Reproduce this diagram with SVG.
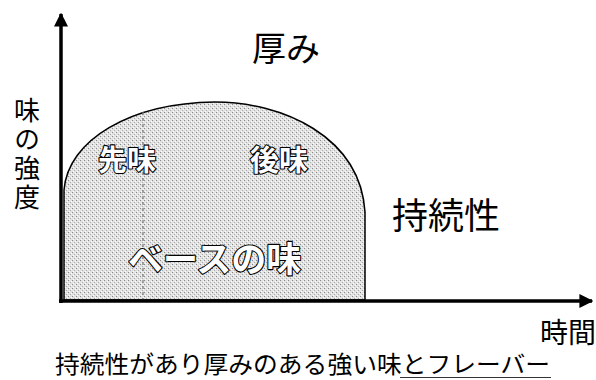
<svg xmlns="http://www.w3.org/2000/svg" width="596" height="380" viewBox="0 0 596 380">
<style>
.t{font-family:"Noto Sans CJK JP","Noto Sans CJK SC",sans-serif;fill:#000}
.o{font-family:"Noto Sans CJK JP","Noto Sans CJK SC",sans-serif;font-weight:bold;fill:#fff;stroke:#000;stroke-width:2.2;paint-order:stroke;stroke-linejoin:round}
.ax{stroke:#000;stroke-width:3.5;fill:none}
</style>
<defs>
<pattern id="stip" width="4" height="4" patternUnits="userSpaceOnUse">
<rect width="4" height="4" fill="#e2e2e2"/>
<rect x="0" y="0" width="1" height="1" fill="#888"/>
<rect x="2" y="2" width="1" height="1" fill="#aaa"/>
<rect x="1" y="3" width="1" height="1" fill="#fff"/>
<rect x="3" y="1" width="1" height="1" fill="#fff"/>
</pattern>
<marker id="ah" viewBox="0 0 10 10" refX="9" refY="5" markerWidth="4" markerHeight="4.5" orient="auto" markerUnits="strokeWidth">
<path d="M0,0 L10,5 L0,10 Z" fill="#000"/>
</marker>
</defs>
<g id="region">
<path d="M64,300 L64,190 C68,140 130,103 215,102 C282,102 360,136 365,212 L365,300 Z" fill="url(#stip)" stroke="#000" stroke-width="1.5"/>
<line x1="143" y1="112" x2="143" y2="300" stroke="#777" stroke-width="1.2" stroke-dasharray="3,3"/>
</g>
<g id="connectors">
<line class="ax" x1="61" y1="303" x2="61" y2="14" marker-end="url(#ah)"/>
<line class="ax" x1="59" y1="301" x2="592" y2="301" marker-end="url(#ah)"/>
</g>
<g id="label-atsumi"><text class="t" x="252" y="61" font-size="34">厚み</text></g>
<g id="label-yaxis">
<text class="t" x="27" y="97" font-size="26" writing-mode="vertical-rl" letter-spacing="3">味の強度</text>
</g>
<g id="label-sakiaji"><text class="o" x="98" y="171" font-size="29">先味</text></g>
<g id="label-atoaji"><text class="o" x="250" y="171" font-size="29">後味</text></g>
<g id="label-base"><text class="o" x="128" y="272" font-size="35">ベースの味</text></g>
<g id="label-jizoku"><text class="t" x="392" y="229" font-size="36">持続性</text></g>
<g id="label-time"><text class="t" x="540" y="343" font-size="28">時間</text></g>
<g id="caption">
<text class="t" x="55" y="373" font-size="23.5" textLength="495" lengthAdjust="spacingAndGlyphs">持続性があり厚みのある強い味とフレーバー</text>
<line x1="400" y1="377.5" x2="551" y2="377.5" stroke="#333" stroke-width="1"/>
</g>
</svg>
